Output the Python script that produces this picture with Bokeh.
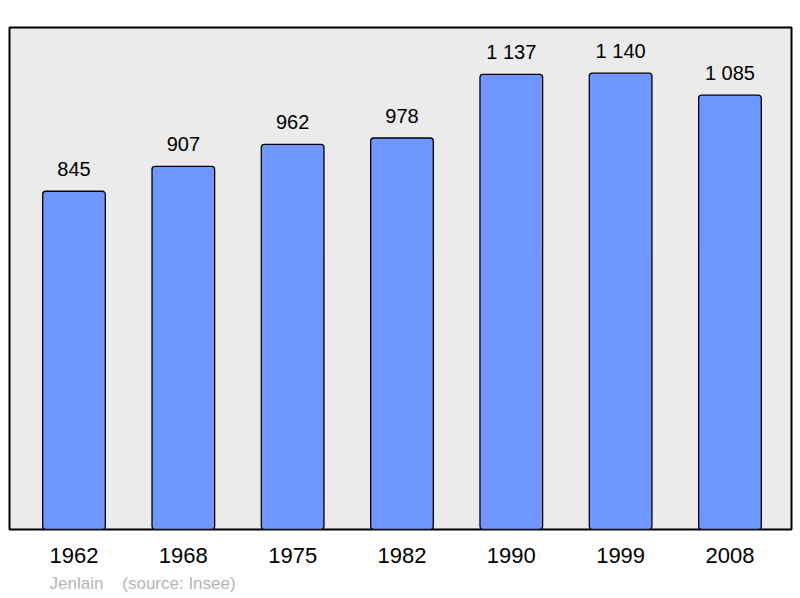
from bokeh.plotting import figure
from bokeh.models import ColumnDataSource, FixedTicker, Range1d, Title
from bokeh.core.properties import value
from bokeh.embed import file_html
from bokeh.resources import INLINE

years = ["1962", "1968", "1975", "1982", "1990", "1999", "2008"]
population = [845, 907, 962, 978, 1137, 1140, 1085]
value_labels = ["845", "907", "962", "978", "1\u00a0137", "1\u00a0140", "1\u00a0085"]
footer = "Jenlain\u00a0\u00a0\u00a0\u00a0(source: Insee)"

xs = list(range(len(years)))
src = ColumnDataSource(dict(x=xs, pop=population, lab=value_labels))

p = figure(width=800, height=598, output_backend="svg", toolbar_location=None,
           x_range=Range1d(-0.59, len(years) - 1 + 0.563),
           y_range=Range1d(0, max(population) * 1.1),
           min_border_left=9, min_border_right=9, min_border_top=27, min_border_bottom=69)

p.background_fill_color = "#ebebeb"
p.border_fill_color = "white"
p.outline_line_color = "black"
p.outline_line_width = 2
p.grid.visible = False
p.yaxis.visible = False

p.vbar(x="x", top="pop", width=0.573, source=src, fill_color="#7096ff",
       line_color="black", line_width=1.3, border_radius=3)

p.text(x="x", y="pop", text="lab", source=src, text_align="center",
       text_baseline="alphabetic", y_offset=-22, text_font=value("Liberation Sans"),
       text_font_size="20px", text_color="black")

ax = p.xaxis[0]
ax.ticker = FixedTicker(ticks=xs)
ax.major_label_overrides = {i: y for i, y in enumerate(years)}
ax.axis_line_color = None
ax.major_tick_line_color = None
ax.minor_tick_line_color = None
ax.major_tick_out = 0
ax.major_tick_in = 0
ax.major_label_standoff = 18
ax.major_label_text_font = "Liberation Sans"
ax.major_label_text_font_size = "22px"
ax.major_label_text_color = "black"

p.add_layout(Title(text=footer, align="left", offset=40, standoff=12,
                   text_font="Liberation Sans", text_font_size="17px",
                   text_font_style="normal", text_color="#b4b4b4"), "below")

open("out.html", "w").write(file_html(p, INLINE))
